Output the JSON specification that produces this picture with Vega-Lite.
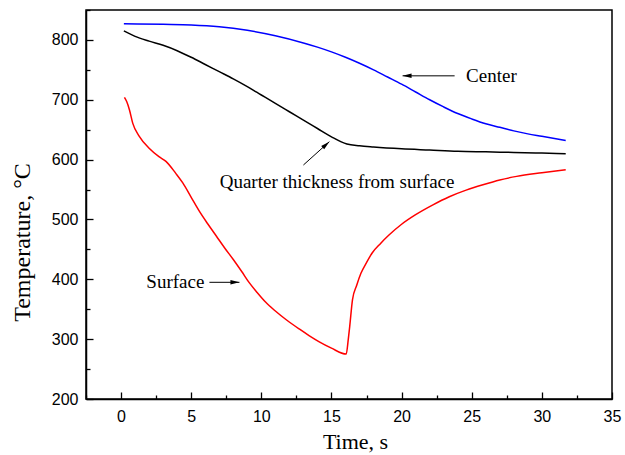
{
  "$schema": "https://vega.github.io/schema/vega-lite/v6.json",
  "width": 526,
  "height": 389,
  "autosize": {"type": "none"},
  "padding": {"left": 86, "top": 10, "right": 13, "bottom": 56},
  "background": "white",
  "config": {
    "view": {"stroke": "black", "strokeWidth": 1.5},
    "axis": {
      "domainColor": "black", "domainWidth": 1.5, "tickColor": "black", "tickWidth": 1.3,
      "grid": false, "labelFont": "Liberation Sans", "labelFontSize": 16, "labelColor": "black",
      "titleFont": "Liberation Serif", "titleFontWeight": "normal", "titleColor": "black"
    }
  },
  "datasets": {
    "curves": [
      {"series": "Center", "t": 0.2, "temp": 827},
      {"series": "Center", "t": 3, "temp": 826},
      {"series": "Center", "t": 5, "temp": 825},
      {"series": "Center", "t": 7, "temp": 822},
      {"series": "Center", "t": 9, "temp": 816},
      {"series": "Center", "t": 11, "temp": 807},
      {"series": "Center", "t": 13, "temp": 795},
      {"series": "Center", "t": 14, "temp": 788},
      {"series": "Center", "t": 15, "temp": 780},
      {"series": "Center", "t": 16, "temp": 771},
      {"series": "Center", "t": 17, "temp": 761},
      {"series": "Center", "t": 18, "temp": 750},
      {"series": "Center", "t": 19, "temp": 738},
      {"series": "Center", "t": 20, "temp": 726},
      {"series": "Center", "t": 21, "temp": 713},
      {"series": "Center", "t": 22, "temp": 700},
      {"series": "Center", "t": 23, "temp": 688},
      {"series": "Center", "t": 24, "temp": 677},
      {"series": "Center", "t": 25, "temp": 668},
      {"series": "Center", "t": 26, "temp": 660},
      {"series": "Center", "t": 27, "temp": 654},
      {"series": "Center", "t": 28, "temp": 648},
      {"series": "Center", "t": 29, "temp": 643},
      {"series": "Center", "t": 30, "temp": 639},
      {"series": "Center", "t": 31.7, "temp": 632},
      {"series": "Quarter", "t": 0.2, "temp": 815},
      {"series": "Quarter", "t": 1, "temp": 806},
      {"series": "Quarter", "t": 2, "temp": 798},
      {"series": "Quarter", "t": 3, "temp": 791},
      {"series": "Quarter", "t": 4, "temp": 782},
      {"series": "Quarter", "t": 5, "temp": 771},
      {"series": "Quarter", "t": 6, "temp": 759},
      {"series": "Quarter", "t": 7, "temp": 747},
      {"series": "Quarter", "t": 8, "temp": 735},
      {"series": "Quarter", "t": 9, "temp": 722},
      {"series": "Quarter", "t": 10, "temp": 708},
      {"series": "Quarter", "t": 11, "temp": 694},
      {"series": "Quarter", "t": 12, "temp": 680},
      {"series": "Quarter", "t": 13, "temp": 666},
      {"series": "Quarter", "t": 14, "temp": 652},
      {"series": "Quarter", "t": 15, "temp": 638},
      {"series": "Quarter", "t": 16.1, "temp": 626},
      {"series": "Quarter", "t": 17, "temp": 623},
      {"series": "Quarter", "t": 18, "temp": 621},
      {"series": "Quarter", "t": 20, "temp": 618},
      {"series": "Quarter", "t": 22, "temp": 616},
      {"series": "Quarter", "t": 24, "temp": 614},
      {"series": "Quarter", "t": 26, "temp": 613},
      {"series": "Quarter", "t": 28, "temp": 612},
      {"series": "Quarter", "t": 30, "temp": 611},
      {"series": "Quarter", "t": 31.7, "temp": 610},
      {"series": "Surface", "t": 0.24, "temp": 704},
      {"series": "Surface", "t": 0.4, "temp": 697},
      {"series": "Surface", "t": 0.6, "temp": 683},
      {"series": "Surface", "t": 0.83, "temp": 661},
      {"series": "Surface", "t": 1.3, "temp": 639},
      {"series": "Surface", "t": 2.0, "temp": 619},
      {"series": "Surface", "t": 2.7, "temp": 605},
      {"series": "Surface", "t": 3.2, "temp": 597},
      {"series": "Surface", "t": 3.9, "temp": 577},
      {"series": "Surface", "t": 4.4, "temp": 561},
      {"series": "Surface", "t": 5.0, "temp": 537},
      {"series": "Surface", "t": 5.6, "temp": 513},
      {"series": "Surface", "t": 6.2, "temp": 492},
      {"series": "Surface", "t": 6.8, "temp": 472},
      {"series": "Surface", "t": 7.4, "temp": 452},
      {"series": "Surface", "t": 8.0, "temp": 433},
      {"series": "Surface", "t": 8.6, "temp": 413},
      {"series": "Surface", "t": 9.15, "temp": 394},
      {"series": "Surface", "t": 9.7, "temp": 378},
      {"series": "Surface", "t": 10.3, "temp": 362},
      {"series": "Surface", "t": 11.0, "temp": 347},
      {"series": "Surface", "t": 11.8, "temp": 332},
      {"series": "Surface", "t": 12.7, "temp": 317},
      {"series": "Surface", "t": 13.4, "temp": 306},
      {"series": "Surface", "t": 14.1, "temp": 296},
      {"series": "Surface", "t": 15.0, "temp": 285},
      {"series": "Surface", "t": 16.05, "temp": 275},
      {"series": "Surface", "t": 16.2, "temp": 300},
      {"series": "Surface", "t": 16.3, "temp": 321},
      {"series": "Surface", "t": 16.5, "temp": 366},
      {"series": "Surface", "t": 16.8, "temp": 390},
      {"series": "Surface", "t": 17.1, "temp": 410},
      {"series": "Surface", "t": 17.5, "temp": 428},
      {"series": "Surface", "t": 17.9, "temp": 444},
      {"series": "Surface", "t": 18.5, "temp": 460},
      {"series": "Surface", "t": 19.1, "temp": 474},
      {"series": "Surface", "t": 20.0, "temp": 492},
      {"series": "Surface", "t": 21.0, "temp": 508},
      {"series": "Surface", "t": 22.2, "temp": 524},
      {"series": "Surface", "t": 23.4, "temp": 538},
      {"series": "Surface", "t": 24.6, "temp": 549},
      {"series": "Surface", "t": 25.8, "temp": 558},
      {"series": "Surface", "t": 27.0, "temp": 566},
      {"series": "Surface", "t": 28.2, "temp": 572},
      {"series": "Surface", "t": 30.0, "temp": 578},
      {"series": "Surface", "t": 31.7, "temp": 583}
    ],
    "labels": [
      {"label": "Center", "t": 24.6, "temp": 740},
      {"label": "Quarter thickness from surface", "t": 15.4, "temp": 563},
      {"label": "Surface", "t": 5.94, "temp": 395}
    ],
    "arrows": [
      {"name": "Center", "t": 23.78, "temp": 740, "t2": 20.07, "temp2": 740},
      {"name": "Quarter", "t": 13.0, "temp": 591, "t2": 14.85, "temp2": 630},
      {"name": "Surface", "t": 6.3, "temp": 395, "t2": 8.44, "temp2": 395}
    ]
  },
  "resolve": {"axis": {"x": "independent", "y": "independent"}},
  "layer": [
    {
      "data": {"name": "curves"},
      "mark": {"type": "line", "strokeWidth": 1.5, "interpolate": "monotone"},
      "encoding": {
        "x": {"field": "t", "type": "quantitative", "scale": {"domain": [-2.5, 35], "nice": false, "zero": false},
              "axis": {"orient": "bottom", "title": "Time, s", "titleFontSize": 22, "titleX": 269, "titleY": 49, "titleBaseline": "alphabetic", "titleAnchor": null, "titleAlign": "center",
                       "values": [0, 5, 10, 15, 20, 25, 30, 35], "tickSize": -7, "labelPadding": 16, "labelFlush": false}},
        "y": {"field": "temp", "type": "quantitative", "scale": {"domain": [200, 850], "nice": false, "zero": false},
              "axis": {"orient": "left", "title": "Temperature, °C", "titleFontSize": 24, "titleX": -57, "titleY": 232, "titleAngle": -90, "titleBaseline": "alphabetic", "titleAlign": "center", "titleAnchor": null,
                       "values": [200, 300, 400, 500, 600, 700, 800], "tickSize": -7, "labelPadding": 15, "labelFlush": false}},
        "color": {"field": "series", "type": "nominal", "scale": {"domain": ["Center", "Quarter", "Surface"], "range": ["#0000ff", "#000000", "#ff0000"]}, "legend": null},
        "detail": {"field": "series"}
      }
    },
    {
      "data": {"name": "arrows"},
      "mark": {"type": "rule", "color": "black", "strokeWidth": 1},
      "encoding": {
        "x": {"field": "t", "type": "quantitative",
              "axis": {"orient": "bottom", "title": null, "labels": false, "domain": false, "values": [-2.5, 2.5, 7.5, 12.5, 17.5, 22.5, 27.5, 32.5], "tickSize": -4}},
        "y": {"field": "temp", "type": "quantitative",
              "axis": {"orient": "left", "title": null, "labels": false, "domain": false, "values": [250, 350, 450, 550, 650, 750, 850], "tickSize": -4}},
        "x2": {"field": "t2"},
        "y2": {"field": "temp2"}
      }
    },
    {
      "data": {"name": "arrows"},
      "transform": [{"filter": "datum.name === 'Center'"}],
      "mark": {"type": "point", "shape": "M0,0L0.25,1L-0.25,1Z", "size": 324, "angle": 270, "filled": true, "color": "black", "opacity": 1},
      "encoding": {"x": {"field": "t2", "type": "quantitative", "axis": null}, "y": {"field": "temp2", "type": "quantitative", "axis": null}}
    },
    {
      "data": {"name": "arrows"},
      "transform": [{"filter": "datum.name === 'Quarter'"}],
      "mark": {"type": "point", "shape": "M0,0L0.25,1L-0.25,1Z", "size": 324, "angle": 48, "filled": true, "color": "black", "opacity": 1},
      "encoding": {"x": {"field": "t2", "type": "quantitative", "axis": null}, "y": {"field": "temp2", "type": "quantitative", "axis": null}}
    },
    {
      "data": {"name": "arrows"},
      "transform": [{"filter": "datum.name === 'Surface'"}],
      "mark": {"type": "point", "shape": "M0,0L0.25,1L-0.25,1Z", "size": 324, "angle": 90, "filled": true, "color": "black", "opacity": 1},
      "encoding": {"x": {"field": "t2", "type": "quantitative", "axis": null}, "y": {"field": "temp2", "type": "quantitative", "axis": null}}
    },
    {
      "data": {"name": "labels"},
      "transform": [{"filter": "datum.label === 'Center'"}],
      "mark": {"type": "text", "font": "Liberation Serif", "fontSize": 19, "color": "black", "baseline": "middle", "align": "left"},
      "encoding": {"x": {"field": "t", "type": "quantitative", "axis": null}, "y": {"field": "temp", "type": "quantitative", "axis": null}, "text": {"field": "label"}}
    },
    {
      "data": {"name": "labels"},
      "transform": [{"filter": "datum.label === 'Quarter thickness from surface'"}],
      "mark": {"type": "text", "font": "Liberation Serif", "fontSize": 19, "color": "black", "baseline": "middle", "align": "center"},
      "encoding": {"x": {"field": "t", "type": "quantitative", "axis": null}, "y": {"field": "temp", "type": "quantitative", "axis": null}, "text": {"field": "label"}}
    },
    {
      "data": {"name": "labels"},
      "transform": [{"filter": "datum.label === 'Surface'"}],
      "mark": {"type": "text", "font": "Liberation Serif", "fontSize": 19, "color": "black", "baseline": "middle", "align": "right"},
      "encoding": {"x": {"field": "t", "type": "quantitative", "axis": null}, "y": {"field": "temp", "type": "quantitative", "axis": null}, "text": {"field": "label"}}
    }
  ]
}
